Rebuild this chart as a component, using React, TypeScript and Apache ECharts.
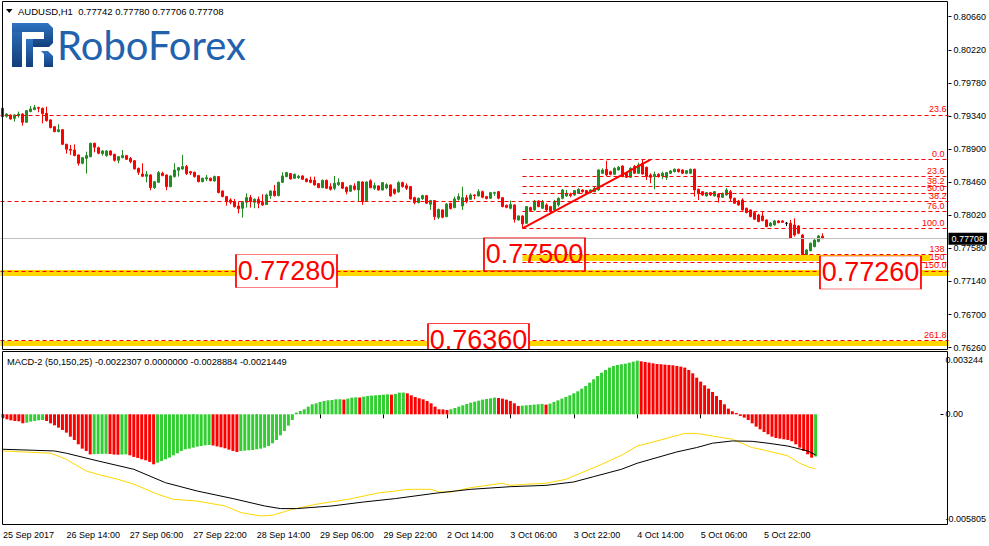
import React, { useEffect, useRef } from 'react';
import * as echarts from 'echarts';

const FONT = '"Liberation Sans", Arial, sans-serif';

const headerText = 'AUDUSD,H1  0.77742 0.77780 0.77706 0.77708';
const macdText = 'MACD-2 (50,150,25) -0.0022307 0.0000000 -0.0028884 -0.0021449';
const logoText = 'RoboForex';

const timeLabels = [
  '25 Sep 2017', '26 Sep 14:00', '27 Sep 06:00', '27 Sep 22:00', '28 Sep 14:00',
  '29 Sep 06:00', '29 Sep 22:00', '2 Oct 14:00', '3 Oct 06:00', '3 Oct 22:00',
  '4 Oct 14:00', '5 Oct 06:00', '5 Oct 22:00',
];
const barsPerTimeLabel = 16;
const slotCount = 237; // bars + right shift of the chart

const priceTicks = [0.8066, 0.8022, 0.7978, 0.7934, 0.789, 0.7846, 0.7802, 0.7758, 0.7714, 0.767, 0.7626];
const priceMin = 0.76229;
const priceMax = 0.80855;
const macdTicks = [0.003244, 0, -0.005805];
const macdMin = -0.005805;
const macdMax = 0.003244;
const lastPrice = 0.77708;

// AUDUSD H1 candles in points (1e-5): [open, close, low, high]
const candles: number[][] = [
  [79442, 79331, 79327, 79451], [79335, 79366, 79318, 79375], [79353, 79300, 79291, 79362], [79309, 79353, 79265, 79362],
  [79344, 79366, 79318, 79398], [79366, 79256, 79211, 79375], [79256, 79411, 79251, 79420], [79398, 79433, 79389, 79473],
  [79424, 79451, 79420, 79486], [79451, 79442, 79389, 79464], [79442, 79371, 79242, 79451], [79375, 79278, 79265, 79464],
  [79287, 79185, 79176, 79296], [79198, 79132, 79123, 79207], [79132, 79158, 79123, 79229], [79158, 78963, 78955, 79167],
  [78963, 78897, 78839, 78972], [78897, 78884, 78822, 78955], [78888, 78813, 78804, 78963], [78822, 78711, 78680, 78830],
  [78711, 78786, 78698, 78795], [78777, 78813, 78574, 78866], [78799, 78977, 78791, 78985], [78977, 78924, 78857, 78985],
  [78919, 78844, 78830, 78932], [78839, 78875, 78813, 78888], [78813, 78875, 78799, 78888], [78875, 78822, 78813, 78884],
  [78830, 78751, 78733, 78839], [78751, 78799, 78711, 78808], [78786, 78813, 78777, 78888], [78813, 78764, 78755, 78822],
  [78777, 78733, 78711, 78795], [78746, 78636, 78627, 78755], [78644, 78591, 78556, 78653], [78569, 78538, 78534, 78711],
  [78538, 78565, 78458, 78609], [78556, 78388, 78352, 78565], [78388, 78467, 78370, 78476], [78458, 78587, 78454, 78609],
  [78578, 78547, 78538, 78600], [78556, 78401, 78352, 78565], [78401, 78543, 78392, 78551], [78534, 78622, 78520, 78711],
  [78618, 78653, 78534, 78662], [78636, 78667, 78622, 78822], [78667, 78574, 78556, 78689], [78600, 78582, 78556, 78609],
  [78591, 78534, 78520, 78600], [78547, 78467, 78458, 78556], [78467, 78512, 78458, 78520], [78503, 78520, 78476, 78556],
  [78512, 78480, 78472, 78520], [78476, 78534, 78467, 78547], [78534, 78321, 78312, 78543], [78343, 78268, 78259, 78352],
  [78268, 78201, 78148, 78277], [78224, 78193, 78166, 78246], [78201, 78135, 78122, 78237], [78144, 78108, 78046, 78201],
  [78113, 78201, 77989, 78210], [78193, 78255, 78122, 78312], [78255, 78201, 78122, 78290], [78193, 78232, 78113, 78246],
  [78232, 78179, 78113, 78268], [78193, 78157, 78148, 78299], [78162, 78290, 78157, 78308], [78281, 78343, 78237, 78352],
  [78343, 78281, 78268, 78423], [78281, 78458, 78272, 78467], [78458, 78543, 78449, 78591], [78534, 78587, 78525, 78596],
  [78574, 78503, 78494, 78582], [78512, 78565, 78503, 78574], [78520, 78538, 78503, 78556], [78543, 78498, 78489, 78551],
  [78503, 78467, 78458, 78512], [78489, 78458, 78445, 78534], [78485, 78423, 78414, 78534], [78441, 78388, 78379, 78449],
  [78388, 78485, 78379, 78494], [78485, 78379, 78370, 78494], [78401, 78365, 78348, 78445], [78379, 78445, 78356, 78542],
  [78427, 78454, 78410, 78511], [78454, 78379, 78370, 78463], [78392, 78334, 78299, 78401], [78339, 78414, 78330, 78423],
  [78410, 78365, 78348, 78445], [78356, 78467, 78201, 78476], [78463, 78201, 78157, 78472], [78215, 78463, 78206, 78472],
  [78480, 78387, 78379, 78498], [78379, 78414, 78356, 78454], [78410, 78356, 78348, 78418], [78356, 78454, 78348, 78463],
  [78383, 78427, 78365, 78445], [78423, 78277, 78268, 78432], [78365, 78312, 78294, 78374], [78330, 78454, 78321, 78472],
  [78454, 78401, 78387, 78467], [78414, 78379, 78356, 78445], [78401, 78237, 78228, 78410], [78254, 78188, 78166, 78268],
  [78188, 78246, 78179, 78254], [78241, 78281, 78224, 78294], [78281, 78179, 78170, 78290], [78166, 78215, 78091, 78224],
  [78215, 78002, 77958, 78224], [77993, 78099, 77967, 78108], [78091, 77993, 77980, 78099], [78002, 78170, 77993, 78179],
  [78179, 78108, 78099, 78188], [78122, 78237, 78113, 78268], [78232, 78268, 78215, 78312], [78144, 78254, 78091, 78401],
  [78254, 78201, 78179, 78290], [78232, 78290, 78224, 78312], [78290, 78281, 78232, 78299], [78277, 78334, 78268, 78365],
  [78334, 78259, 78246, 78348], [78268, 78241, 78232, 78277], [78246, 78321, 78237, 78330], [78312, 78321, 78277, 78334],
  [78334, 78246, 78232, 78343], [78254, 78135, 78126, 78263], [78153, 78126, 78113, 78162], [78113, 78162, 78099, 78215],
  [78157, 77967, 77922, 78166], [77958, 78011, 77949, 78020], [78011, 77905, 77847, 78020], [77914, 78135, 77905, 78144],
  [78122, 78082, 78069, 78135], [78091, 78210, 78082, 78224], [78210, 78135, 78126, 78219], [78113, 78201, 78104, 78224],
  [78157, 78091, 78077, 78179], [78135, 78069, 78055, 78144], [78091, 78201, 78082, 78224], [78157, 78246, 78135, 78259],
  [78246, 78356, 78232, 78370], [78277, 78312, 78268, 78356], [78299, 78281, 78259, 78321], [78290, 78348, 78277, 78356],
  [78312, 78365, 78303, 78379], [78356, 78334, 78321, 78365], [78348, 78312, 78303, 78356], [78321, 78356, 78312, 78365],
  [78334, 78379, 78325, 78401], [78356, 78622, 78348, 78631], [78578, 78622, 78569, 78644], [78631, 78556, 78543, 78746],
  [78600, 78565, 78551, 78613], [78565, 78644, 78556, 78658], [78622, 78658, 78613, 78675], [78675, 78534, 78525, 78684],
  [78578, 78525, 78516, 78587], [78525, 78644, 78516, 78658], [78667, 78578, 78569, 78689], [78578, 78689, 78569, 78720],
  [78711, 78569, 78560, 78764], [78658, 78534, 78489, 78667], [78556, 78525, 78445, 78578], [78534, 78565, 78365, 78600],
  [78565, 78534, 78520, 78578], [78543, 78578, 78498, 78600], [78525, 78587, 78489, 78596], [78578, 78609, 78569, 78622],
  [78600, 78631, 78591, 78644], [78631, 78600, 78587, 78640], [78622, 78578, 78569, 78631], [78578, 78613, 78565, 78622],
  [78578, 78631, 78569, 78640], [78631, 78356, 78268, 78640], [78365, 78312, 78224, 78374], [78334, 78290, 78277, 78343],
  [78277, 78321, 78268, 78330], [78321, 78290, 78277, 78330], [78277, 78334, 78268, 78343], [78303, 78259, 78188, 78312],
  [78259, 78312, 78250, 78321], [78290, 78356, 78281, 78379], [78334, 78246, 78201, 78356], [78246, 78179, 78170, 78255],
  [78210, 78157, 78148, 78224], [78224, 78091, 78082, 78246], [78113, 78055, 78046, 78122], [78091, 78002, 77993, 78099],
  [78055, 77967, 77958, 78064], [78024, 77936, 77927, 78038], [78011, 77949, 77940, 78069], [77958, 77869, 77860, 77967],
  [77878, 77914, 77869, 77931], [77891, 77945, 77883, 77958], [77945, 77922, 77914, 77953], [77945, 77927, 77918, 77953],
  [77914, 77914, 77878, 77931], [77914, 77714, 77705, 77958], [77891, 77758, 77736, 77980], [77878, 77781, 77767, 77887],
  [77758, 77493, 77417, 77767], [77493, 77559, 77448, 77568], [77550, 77648, 77541, 77657], [77603, 77691, 77594, 77701],
  [77670, 77745, 77661, 77758], [77742, 77708, 77706, 77780],
];

// MACD histogram in micro-units (1e-6)
const histMicro = [
  -176, -265, -318, -353, -370, -476, -441, -388, -353, -318,
  -300, -353, -476, -582, -706, -829, -970, -1182, -1358, -1588,
  -1817, -1940, -2120, -2110, -2100, -2095, -2090, -2100, -2130, -2140,
  -2130, -2120, -2170, -2258, -2311, -2381, -2434, -2522, -2646, -2558,
  -2470, -2381, -2293, -2170, -2064, -1940, -1852, -1817, -1764, -1711,
  -1676, -1641, -1623, -1650, -1700, -1746, -1800, -1870, -1940, -1993,
  -1940, -1923, -1905, -1887, -1852, -1817, -1764, -1676, -1535, -1358,
  -1111, -882, -600, -300, 88, 176, 265, 406, 529, 582,
  653, 706, 741, 758, 794, 800, 780, 830, 882, 900,
  890, 935, 970, 990, 1005, 1020, 1040, 1055, 1040, 1080,
  1147, 1150, 1111, 1005, 917, 847, 794, 706, 582, 406,
  265, 260, 229, 265, 335, 406, 476, 547, 617, 670,
  723, 776, 811, 847, 882, 864, 829, 776, 706, 582,
  441, 459, 476, 494, 512, 529, 547, 512, 565, 653,
  741, 829, 917, 1005, 1111, 1217, 1358, 1499, 1676, 1852,
  2029, 2205, 2346, 2470, 2558, 2611, 2646, 2681, 2734, 2787,
  2840, 2805, 2770, 2734, 2699, 2664, 2646, 2628, 2611, 2593,
  2558, 2523, 2470, 2346, 2170, 1940, 1729, 1535, 1358, 1182,
  970, 759, 529, 300, 159, 71, -88, -176, -300, -476,
  -653, -794, -935, -1058, -1182, -1252, -1288, -1323, -1358, -1429,
  -1588, -1764, -1940, -2117, -2293, -2231,
];
// colour runs of the histogram: g = rising, r = falling
const histColorRuns: [string, number][] = [
  ['r', 6], ['g', 5], ['r', 12], ['g', 4], ['r', 3], ['g', 2], ['r', 7], ['g', 14], ['r', 7], ['g', 26],
  ['r', 1], ['g', 3], ['r', 1], ['g', 7], ['r', 1], ['g', 3], ['r', 11], ['g', 12], ['r', 6], ['g', 6],
  ['r', 1], ['g', 23], ['r', 44], ['g', 1],
];
// MACD lines read at bar indices: [bar, value]
const macdBlackLine = [
  [0, -0.00185], [13, -0.00194], [16, -0.00206], [24, -0.00247], [33, -0.00291], [41, -0.00362], [49, -0.00406],
  [58, -0.00446], [66, -0.00485], [70, -0.00499], [74, -0.00499], [83, -0.00485], [91, -0.00464], [99, -0.00446],
  [109, -0.00418], [118, -0.00397], [128, -0.00383], [137, -0.00376], [144, -0.00358], [149, -0.0033], [156, -0.00291],
  [160, -0.00259], [165, -0.00229], [170, -0.00199], [175, -0.00176], [179, -0.00153], [184, -0.00141], [189, -0.00143],
  [193, -0.00153], [198, -0.00168], [203, -0.00194], [205, -0.0021449],
];
const macdGoldLine = [
  [0, -0.00194], [12, -0.00206], [16, -0.00238], [21, -0.003], [24, -0.00318], [29, -0.00344], [33, -0.0037],
  [39, -0.00423], [43, -0.0045], [49, -0.00459], [56, -0.00485], [60, -0.0052], [65, -0.00538], [68, -0.00534],
  [73, -0.00503], [79, -0.00476], [87, -0.0045], [95, -0.00415], [99, -0.00406], [102, -0.00397], [108, -0.00397],
  [110, -0.00411], [113, -0.00411], [118, -0.00388], [126, -0.00365], [128, -0.00376], [132, -0.0037], [137, -0.00365],
  [142, -0.00344], [146, -0.00309], [151, -0.00265], [156, -0.00217], [160, -0.00168], [165, -0.00141], [172, -0.00101],
  [175, -0.00101], [179, -0.00115], [184, -0.00132], [189, -0.00176], [193, -0.00194], [198, -0.0022], [201, -0.00259],
  [203, -0.00277], [205, -0.0028884],
];

// Fibonacci / level objects
const fullWidthLevels = [
  { price: 0.79353, label: '23.6' },
  { price: 0.782, label: '38.2' },
  { price: 0.7728, label: '150.0' },
  { price: 0.7636, label: '261.8' },
];
const fibStartBar = 130;
const fibEndBar = 236;
const fibLevels = [
  { price: 0.78761, label: '0.0' },
  { price: 0.78542, label: '23.6' },
  { price: 0.78409, label: '38.2' },
  { price: 0.78309, label: '50.0' },
  { price: 0.78073, label: '76.0' },
  { price: 0.77847, label: '100.0' },
  { price: 0.775, label: '138' },
  { price: 0.77395, label: '150' },
];
const yellowBands = [
  { price: 0.7745, from: 130, to: 232, width: 6 },
  { price: 0.7726, from: null, to: null, width: 6 },
  { price: 0.7632, from: null, to: null, width: 5 },
];
const trendLine = [[130, 0.77847], [162, 0.78761]];
const priceBoxes = [
  { text: '0.77500', bar: 133, price: 0.775, filled: false },
  { text: '0.77280', bar: 71, price: 0.7728, filled: true },
  { text: '0.77260', bar: 217, price: 0.7726, filled: true },
  { text: '0.76360', bar: 119, price: 0.7636, filled: true },
];

const BULL = '#228B22';
const BEAR = '#FF0000';

export default function App() {
  const ref = useRef<HTMLDivElement>(null);

  useEffect(() => {
    document.body.style.margin = '0';
    const el = ref.current;
    if (!el) return;
    const chart = echarts.init(el, null, { renderer: 'svg' });

    const categories = Array.from({ length: slotCount }, (_, i) => String(i));
    const isLabelSlot = (index: number) =>
      index % barsPerTimeLabel === 0 && index / barsPerTimeLabel < timeLabels.length;

    const candleData = candles.map(([o, c, l, h]) => {
      const v = [o / 1e5, c / 1e5, l / 1e5, h / 1e5];
      return o === c ? { value: v, itemStyle: { color: '#000', borderColor: '#000' } } : v;
    });

    const histColors: string[] = [];
    histColorRuns.forEach(([c, n]) => {
      for (let k = 0; k < n; k++) histColors.push(c === 'g' ? '#32CD32' : '#FF0000');
    });
    const histData = histMicro.map((v, i) => ({ value: v / 1e6, itemStyle: { color: histColors[i] } }));

    const dashed = { color: '#FF0000', width: 1, type: [4, 3] as any };
    const levelLabel = (t: string) => ({
      show: true, position: 'insideEndTop', formatter: t, color: '#FF0000',
      fontSize: 9, fontFamily: FONT, distance: [2, 1],
    });

    const markLineData: any[] = [];
    yellowBands.forEach((b) => {
      const ls = { color: '#FFD700', width: b.width, type: 'solid' };
      if (b.from == null) {
        markLineData.push({ yAxis: b.price, lineStyle: ls, label: { show: false } });
      } else {
        markLineData.push([{ coord: [b.from, b.price], lineStyle: ls, label: { show: false } }, { coord: [b.to, b.price] }]);
      }
    });
    markLineData.push({
      yAxis: lastPrice,
      lineStyle: { color: '#C0C0C0', width: 1, type: 'solid' },
      label: {
        show: true, position: 'end', formatter: lastPrice.toFixed(5), color: '#fff', backgroundColor: '#000',
        fontSize: 9, fontFamily: FONT, padding: [2, 3, 1, 3], distance: 0,
      },
    });
    fullWidthLevels.forEach((l) => {
      markLineData.push({ yAxis: l.price, lineStyle: dashed, label: levelLabel(l.label) });
    });
    fibLevels.forEach((l) => {
      markLineData.push([
        { coord: [fibStartBar, l.price], lineStyle: dashed, label: levelLabel(l.label) },
        { coord: [fibEndBar, l.price] },
      ]);
    });
    markLineData.push([
      { coord: trendLine[0], lineStyle: { color: '#FF0000', width: 2, type: 'solid' }, label: { show: false } },
      { coord: trendLine[1] },
    ]);

    const markPointData = priceBoxes.map((b) => ({
      coord: [b.bar, b.price],
      symbol: 'rect',
      symbolSize: [101, 33],
      itemStyle: { color: b.filled ? '#FFFFFF' : 'rgba(255,255,255,0)', borderColor: '#FF0000', borderWidth: 1 },
      label: { show: true, position: 'inside', formatter: b.text, color: '#FF0000', fontSize: 27, fontFamily: FONT },
    }));

    const logoFill = {
      type: 'linear', x: 0, y: 0, x2: 0, y2: 1,
      colorStops: [{ offset: 0, color: '#2f74c2' }, { offset: 1, color: '#123d7a' }],
    };

    const near = (a: number, b: number) => Math.abs(a - b) < 1e-7;

    chart.setOption({
      animation: false,
      backgroundColor: '#FFFFFF',
      grid: [
        { left: 0.5, top: 2, width: 948, height: 348 },
        { left: 0.5, top: 353, width: 948, height: 171 },
      ],
      xAxis: [
        {
          type: 'category', gridIndex: 0, data: categories, boundaryGap: true, show: false,
        },
        {
          type: 'category', gridIndex: 1, data: categories, boundaryGap: true,
          axisLine: { show: false },
          axisTick: {
            show: true, alignWithLabel: true, length: 4, interval: (i: number) => isLabelSlot(i),
            lineStyle: { color: '#000' },
          },
          axisLabel: {
            show: true, interval: (i: number) => isLabelSlot(i), align: 'left', margin: 6,
            fontSize: 9, fontFamily: FONT, color: '#000',
            formatter: (v: string) => {
              const i = Number(v);
              return isLabelSlot(i) ? timeLabels[i / barsPerTimeLabel] : '';
            },
          },
          splitLine: { show: false },
        },
      ],
      yAxis: [
        {
          type: 'value', gridIndex: 0, position: 'right', min: priceMin, max: priceMax,
          axisLine: { show: false },
          axisTick: { show: true, customValues: priceTicks, length: 3, lineStyle: { color: '#000' } },
          axisLabel: {
            show: true, customValues: priceTicks, margin: 5, fontSize: 9, fontFamily: FONT, color: '#000',
            formatter: (v: number) => v.toFixed(5),
          },
          splitLine: { show: false },
        },
        {
          type: 'value', gridIndex: 1, position: 'right', min: macdMin, max: macdMax,
          axisLine: { show: false },
          axisTick: { show: true, customValues: [0], length: 3, lineStyle: { color: '#000' } },
          axisLabel: {
            show: true, customValues: macdTicks, margin: 5, fontSize: 9, fontFamily: FONT, color: '#000',
            formatter: (v: number) => {
              if (near(v, 0)) return '{m|0.00}';
              if (v > 0) return '{t|' + macdMax.toFixed(6) + '}';
              return '{b|' + macdMin.toFixed(6) + '}';
            },
            rich: {
              t: { padding: [14, 0, 0, 0], fontSize: 9, fontFamily: FONT, color: '#000' },
              m: { fontSize: 9, fontFamily: FONT, color: '#000' },
              b: { padding: [0, 0, 10, 0], fontSize: 9, fontFamily: FONT, color: '#000' },
            },
          },
          splitLine: { show: false },
        },
      ],
      series: [
        {
          type: 'candlestick', xAxisIndex: 0, yAxisIndex: 0, data: candleData, barWidth: 2,
          itemStyle: { color: BULL, color0: BEAR, borderColor: BULL, borderColor0: BEAR, borderWidth: 1 },
          markLine: { silent: true, symbol: ['none', 'none'], precision: 6, z: 4, data: markLineData },
          markPoint: { silent: true, z: 10, data: markPointData },
        },
        {
          type: 'bar', xAxisIndex: 1, yAxisIndex: 1, data: histData, barWidth: 3,
        },
        {
          type: 'line', xAxisIndex: 1, yAxisIndex: 1, data: macdGoldLine, showSymbol: false,
          lineStyle: { color: '#FFD700', width: 1 }, z: 3,
        },
        {
          type: 'line', xAxisIndex: 1, yAxisIndex: 1, data: macdBlackLine, showSymbol: false,
          lineStyle: { color: '#000000', width: 1 }, z: 4,
        },
      ],
      graphic: [
        { type: 'rect', z: 99, silent: true, shape: { x: 426, y: 350, width: 106, height: 9 }, style: { fill: '#FFFFFF' } },
        { type: 'rect', z: 100, silent: true, shape: { x: 2.5, y: 1.5, width: 945, height: 348 }, style: { fill: 'none', stroke: '#000', lineWidth: 1 } },
        { type: 'rect', z: 100, silent: true, shape: { x: 2.5, y: 351.5, width: 945, height: 173 }, style: { fill: 'none', stroke: '#000', lineWidth: 1 } },
        { type: 'polygon', z: 100, silent: true, shape: { points: [[6, 9], [12.5, 9], [9.25, 13]] }, style: { fill: '#000' } },
        { type: 'text', z: 100, silent: true, x: 18, y: 11, style: { text: headerText, fontSize: 9.5, fontFamily: FONT, fill: '#000', verticalAlign: 'middle' } },
        { type: 'text', z: 100, silent: true, x: 7, y: 362, style: { text: macdText, fontSize: 9.25, fontFamily: FONT, fill: '#000', verticalAlign: 'middle' } },
        // logo
        { type: 'rect', z: 100, silent: true, shape: { x: 12, y: 23, width: 10, height: 44 }, style: { fill: logoFill } },
        {
          type: 'polygon', z: 100, silent: true,
          shape: { points: [[12, 23], [48, 23], [53, 28], [53, 43], [49, 47], [26, 47], [26, 39], [44, 39], [44, 32], [12, 32]] },
          style: { fill: logoFill },
        },
        { type: 'rect', z: 100, silent: true, shape: { x: 26, y: 39, width: 7, height: 28 }, style: { fill: logoFill } },
        { type: 'polygon', z: 100, silent: true, shape: { points: [[41, 51], [48, 51], [53, 56], [53, 67], [44, 67], [44, 54]] }, style: { fill: logoFill } },
        { type: 'text', z: 100, silent: true, x: 57, y: 45, style: { text: logoText, fontSize: 40, fontFamily: 'Lato, "Liberation Sans", sans-serif', fill: '#2262ad', verticalAlign: 'middle' } },
      ],
    });

    return () => chart.dispose();
  }, []);

  return <div ref={ref} style={{ width: 989, height: 546, background: '#fff' }} />;
}
